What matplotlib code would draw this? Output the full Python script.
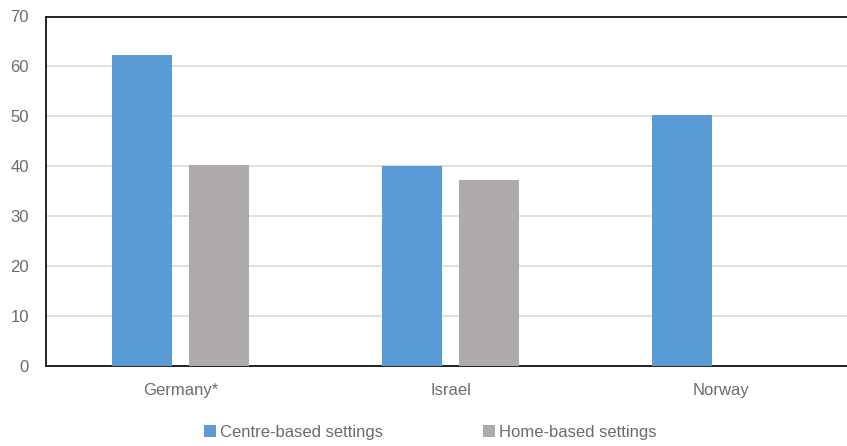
import matplotlib
matplotlib.use("Agg")
import matplotlib.pyplot as plt
import numpy as np

countries = ["Germany*", "Israel", "Norway"]
centre_based = [62.3, 40.0, 50.3]
home_based = [40.3, 37.3, np.nan]
series_names = ["Centre-based settings", "Home-based settings"]
y_ticks = [0, 10, 20, 30, 40, 50, 60, 70]

BLUE = "#5B9BD5"
GREY = "#AEAAAA"
TEXT = "#6B6B6B"

plt.rcParams["font.family"] = ["Liberation Sans", "DejaVu Sans"]

W, H = 847, 446
fig = plt.figure(figsize=(W / 100, H / 100), dpi=100)
# axes spans three 270px category slots starting at x=45.5
left, right, top, bottom = 45.5, 855.5, 16.5, 366.0
ax = fig.add_axes([left / W, 1 - bottom / H, (right - left) / W, (bottom - top) / H])

x = np.arange(len(countries))
bw = 0.2235
off = 0.142
ax.bar(x - off, centre_based, bw, color=BLUE, label=series_names[0], zorder=3)
ax.bar(x + off, home_based, bw, color=GREY, label=series_names[1], zorder=3)

ax.set_xlim(-0.5, len(countries) - 0.5)
ax.set_ylim(0, 70)
ax.set_yticks(y_ticks)
ax.set_xticks(x)
ax.set_xticklabels(countries)
ax.tick_params(axis="both", length=0, labelsize=12, labelcolor=TEXT)
ax.tick_params(axis="y", pad=12)
ax.tick_params(axis="x", pad=12)
ax.yaxis.grid(True, color="#D9D9D9", linewidth=1.2, zorder=0)
ax.set_axisbelow(True)

for side in ["left", "bottom", "top"]:
    ax.spines[side].set_color("#000000")
    ax.spines[side].set_linewidth(1.2)
ax.spines["right"].set_visible(False)

handles, labels = ax.get_legend_handles_labels()
leg = fig.legend(handles, labels, loc="center", ncol=2,
                 bbox_to_anchor=(430.5 / W, 1 - 432 / H),
                 frameon=False, fontsize=12, handlelength=0.7, handleheight=0.7,
                 handletextpad=0.25, columnspacing=6.0)
for t in leg.get_texts():
    t.set_color(TEXT)

fig.savefig("out.png", dpi=100)
